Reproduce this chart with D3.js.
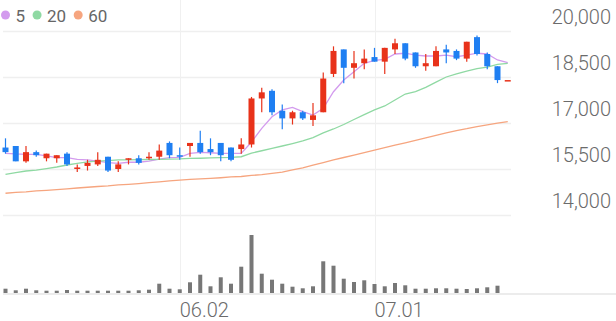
<!DOCTYPE html>
<html>
<head>
<meta charset="utf-8">
<script src="https://cdn.jsdelivr.net/npm/d3@7"></script>
<style>
  body { margin: 0; background: #fff; }
  svg text { font-family: Roboto, "Noto Sans", sans-serif; }
</style>
</head>
<body>
<svg id="chart" width="616" height="321"></svg>
<script>
// trading days (MM.DD), one per candle
const dates = ['05.08','05.09','05.12','05.13','05.14','05.15','05.16','05.19','05.20','05.21',
  '05.22','05.23','05.26','05.27','05.28','05.29','05.30','06.02','06.04','06.05',
  '06.09','06.10','06.11','06.12','06.13','06.16','06.17','06.18','06.19','06.20',
  '06.23','06.24','06.25','06.26','06.27','06.30','07.01','07.02','07.03','07.04',
  '07.07','07.08','07.09','07.10','07.11','07.14','07.15','07.16','07.17','07.18'];
const xTicks = ['06.02', '07.01'];
const priceTicks = [14000, 15500, 17000, 18500, 20000];

const open  = [16200,16250,15750,16050,15850,15850,16000,15500,15600,15650,15900,15500,15800,15850,15850,15900,16350,15950,16250,16350,
  16150,16350,16200,16150,16300,17800,18050,17400,17150,17350,17100,17350,18600,19400,18800,18950,19150,19000,19400,19600,
  19300,18850,18850,19400,19350,19100,19800,19250,18850,18400];
const high  = [16500,16250,16250,16100,16000,15950,16050,15650,15800,16050,15900,15750,15850,15950,16050,16300,16400,16200,16350,16750,
  16500,16350,16200,16500,17850,18150,18100,17600,17400,17400,17650,18650,19500,19400,19350,19400,19450,19450,19750,19600,
  19300,19250,19500,19550,19400,19650,19850,19300,18850,18400];
const low   = [16000,15750,15700,15900,15750,15700,15600,15400,15450,15600,15400,15400,15650,15650,15800,15800,15850,15800,15900,16000,
  15950,15750,15750,16000,16200,17350,17250,16800,16950,17100,16900,17350,18500,18300,18450,18750,19000,18600,19250,19050,
  18800,18700,18850,18950,19050,19000,19200,18750,18300,18400];
const close = [16050,15750,16050,15950,16000,15950,15650,15550,15700,15800,15450,15650,15850,15700,15900,16100,15950,15900,16350,16050,
  16050,15950,15800,16300,17800,18000,17350,17150,17350,17150,17250,18450,19350,18800,18950,19100,19000,19450,19600,19100,
  18850,18950,19350,19300,19100,19650,19250,18850,18400,18400];
// volume in thousand shares
const volume = [215,135,215,135,115,115,150,115,115,115,115,115,115,135,165,465,215,185,535,915,
  335,785,465,1315,2900,965,665,465,315,235,335,1585,1365,715,550,635,450,335,500,385,
  215,215,235,235,215,200,235,285,365,0];

const ma5  = [16010,15990,15980,15980,15925,15870,15870,15815,15795,15760,15705,15685,15720,15720,15760,15825,15870,15880,16010,16045,
  16030,16010,16010,16010,16380,16825,17205,17425,17510,17370,17260,17480,18020,18400,18675,18945,19045,19075,19250,19275,
  19215,19185,19185,19215,19160,19215,19275,19250,19055,18965];
const ma20 = [15325,15385,15435,15465,15515,15565,15630,15680,15730,15760,15775,15795,15795,15805,15810,15815,15825,15830,15845,15850,
  15860,15870,15880,15900,16020,16095,16170,16250,16330,16415,16525,16675,16805,16950,17115,17275,17425,17555,17750,17945,
  18025,18160,18335,18500,18600,18695,18775,18825,18910,18945];
const ma60 = [14710,14735,14755,14785,14805,14830,14855,14880,14905,14930,14950,14980,15000,15025,15055,15080,15110,15135,15160,15175,
  15195,15215,15240,15255,15290,15315,15355,15400,15470,15540,15630,15710,15795,15875,15955,16035,16115,16195,16275,16355,
  16435,16515,16595,16675,16755,16815,16885,16940,16995,17045];

const maNames = ['5', '20', '60'];
const maColors = ['#d39bee', '#8fd9a3', '#f6a57f'];
const upColor = '#e8321a', downColor = '#1f7ff2';

const data = dates.map((d, i) => ({
  date: d, open: open[i], high: high[i], low: low[i], close: close[i], volume: volume[i]
}));

const svg = d3.select('#chart');

const x = d3.scalePoint().domain(dates).range([5.5, 507.75]);
const y = d3.scaleLinear().domain([14000, 20000]).range([215, 31]);
const yVol = d3.scaleLinear().domain([0, 3000]).range([293, 233]);

// grid
svg.selectAll('.hgrid').data(priceTicks).join('line').attr('class', 'hgrid')
  .attr('x1', 3).attr('x2', 511)
  .attr('y1', d => Math.round(y(d)) + 0.5).attr('y2', d => Math.round(y(d)) + 0.5)
  .attr('stroke', '#efefef').attr('stroke-width', 1.5);

svg.selectAll('.vgrid').data(xTicks).join('line').attr('class', 'vgrid')
  .attr('x1', d => Math.round(x(d)) + 0.5).attr('x2', d => Math.round(x(d)) + 0.5)
  .attr('y1', 0).attr('y2', 294)
  .attr('stroke', '#f0f0f0').attr('stroke-width', 1);

svg.append('line')
  .attr('x1', 3).attr('x2', 616).attr('y1', 294).attr('y2', 294)
  .attr('stroke', '#e6e6e6').attr('stroke-width', 1.5);

// y axis labels sit above their gridline
svg.selectAll('.ylab').data(priceTicks).join('text').attr('class', 'ylab')
  .attr('x', 611).attr('y', d => y(d) - 7)
  .attr('text-anchor', 'end')
  .attr('font-size', 20).attr('font-weight', 300).attr('fill', '#6b6b6b')
  .text(d => d3.format(',')(d));

svg.selectAll('.xlab').data(xTicks).join('text').attr('class', 'xlab')
  .attr('x', d => x(d)).attr('y', 317)
  .attr('font-size', 20).attr('font-weight', 300).attr('fill', '#6b6b6b')
  .text(d => d);

// volume
svg.selectAll('.vol').data(data.filter(d => d.volume > 0)).join('rect').attr('class', 'vol')
  .attr('x', d => x(d.date) - 2).attr('width', 4)
  .attr('y', d => yVol(d.volume)).attr('height', d => yVol(0) - yVol(d.volume))
  .attr('fill', '#777');

// moving averages
const ma = [ma5, ma20, ma60];
const line = d3.line().x((d, i) => x(dates[i])).y(d => y(d));
svg.selectAll('.ma').data(ma).join('path').attr('class', 'ma')
  .attr('d', d => line(d))
  .attr('fill', 'none')
  .attr('stroke', (d, i) => maColors[i])
  .attr('stroke-width', 1.3);

// candles
const col = d => d.close >= d.open ? upColor : downColor;
svg.selectAll('.wick').data(data).join('line').attr('class', 'wick')
  .attr('x1', d => x(d.date)).attr('x2', d => x(d.date))
  .attr('y1', d => y(d.high)).attr('y2', d => y(d.low))
  .attr('stroke', col).attr('stroke-width', 1.2);

svg.selectAll('.body').data(data).join('rect').attr('class', 'body')
  .attr('x', d => x(d.date) - 3).attr('width', 6)
  .attr('y', d => y(Math.max(d.open, d.close)))
  .attr('height', d => Math.max(1.5, Math.abs(y(d.open) - y(d.close))))
  .attr('fill', col);

// legend
const legend = svg.append('g');
let lx = 5.5;
maNames.forEach((name, i) => {
  legend.append('circle').attr('cx', lx).attr('cy', 15).attr('r', 4.5).attr('fill', maColors[i]);
  const t = legend.append('text').attr('x', lx + 10).attr('y', 21.5)
    .attr('font-size', 17).attr('fill', '#666').text(name);
  lx += 10 + t.node().getComputedTextLength() + 12;
});
</script>
</body>
</html>
